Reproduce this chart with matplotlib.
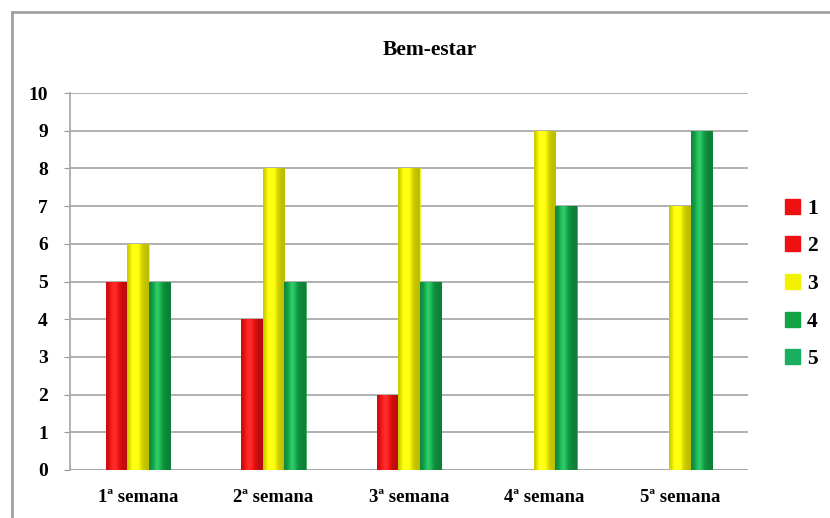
import matplotlib
matplotlib.use("Agg")
import matplotlib.pyplot as plt
import numpy as np
from matplotlib.lines import Line2D
from matplotlib.patches import Patch
from matplotlib.colors import to_rgb

weeks = ["1ª semana", "2ª semana", "3ª semana", "4ª semana", "5ª semana"]
series_names = ["1", "2", "3", "4", "5"]
s1 = [0, 0, 0, 0, 0]
s2 = [5, 4, 2, 0, 0]
s3 = [6, 8, 8, 9, 7]
s4 = [5, 5, 5, 7, 9]
s5 = [0, 0, 0, 0, 0]
series = [s1, s2, s3, s4, s5]
colors = ["#ee1111", "#ee1111", "#f2f200", "#12a347", "#18b060"]

plt.rcParams["font.family"] = ["Liberation Serif", "DejaVu Serif"]
plt.rcParams["font.weight"] = "bold"

fig = plt.figure(figsize=(8.3, 5.18), dpi=100)
fig.patch.set_facecolor("white")

# outer chart frame (left and top edges visible)
fig.add_artist(Line2D([12 / 830, 12 / 830], [0, 1 - 12 / 518], transform=fig.transFigure,
                      color="#a0a0a0", lw=2))
fig.add_artist(Line2D([12 / 830, 1], [1 - 12 / 518, 1 - 12 / 518], transform=fig.transFigure,
                      color="#a0a0a0", lw=2))

ax = fig.add_axes([70 / 830, 48 / 518, 678 / 830, 377 / 518])
x = np.arange(len(weeks))
w = 0.158


def shade_bar(patch, color):
    """Overlay a horizontal cylinder-like gradient clipped to a bar."""
    if patch.get_height() <= 0:
        return
    base = np.array(to_rgb(color))
    t = np.linspace(0, 1, 64)
    # brightness profile: darker edges, light band left of centre
    prof = 0.78 + 0.32 * np.exp(-((t - 0.38) / 0.28) ** 2)
    rgb = np.clip(base[None, :] * prof[:, None] + 0.10 * np.exp(-((t - 0.38) / 0.15) ** 2)[:, None], 0, 1)
    img = rgb[None, :, :]
    x0, y0 = patch.get_x(), patch.get_y()
    im = ax.imshow(img, extent=[x0, x0 + patch.get_width(), y0, y0 + patch.get_height()],
                   aspect="auto", zorder=3.5, interpolation="bilinear")
    im.set_clip_path(patch)


for i, (vals, c) in enumerate(zip(series, colors)):
    offs = (i - 2) * w
    bars = ax.bar(x + offs, vals, width=w, color=c, edgecolor=c, linewidth=0.4, zorder=3)
    for p in bars:
        shade_bar(p, c)

ax.set_xlim(-0.5, len(weeks) - 0.5)
ax.set_ylim(0, 10)
ax.set_yticks(range(0, 11))
ax.set_xticks(x)
ax.set_xticklabels(weeks, fontsize=13.5, fontweight="bold")
ax.tick_params(axis="y", labelsize=14, length=4, color="#999999", pad=12)
ax.tick_params(axis="x", length=0, pad=14)
ax.yaxis.grid(True, color="#aaaaaa", lw=1.3, zorder=0)
for sp in ["top", "right", "bottom"]:
    ax.spines[sp].set_visible(False)
ax.spines["left"].set_color("#aaaaaa")
ax.spines["left"].set_linewidth(1.3)
ax.axhline(0, color="#aaaaaa", lw=1.3, zorder=2)

fig.text(430 / 830, 1 - 50 / 518, "Bem-estar", ha="center", va="center",
         fontsize=15.5, fontweight="bold")

handles = [Patch(facecolor=c, edgecolor=c) for c in colors]
fig.legend(handles, series_names, loc="center left", bbox_to_anchor=(776 / 830, 1 - 284 / 518),
           frameon=False, fontsize=15.5, handlelength=0.7, handleheight=0.7,
           handletextpad=0.35, labelspacing=0.82, borderaxespad=0)

fig.savefig("out.png", dpi=100)
